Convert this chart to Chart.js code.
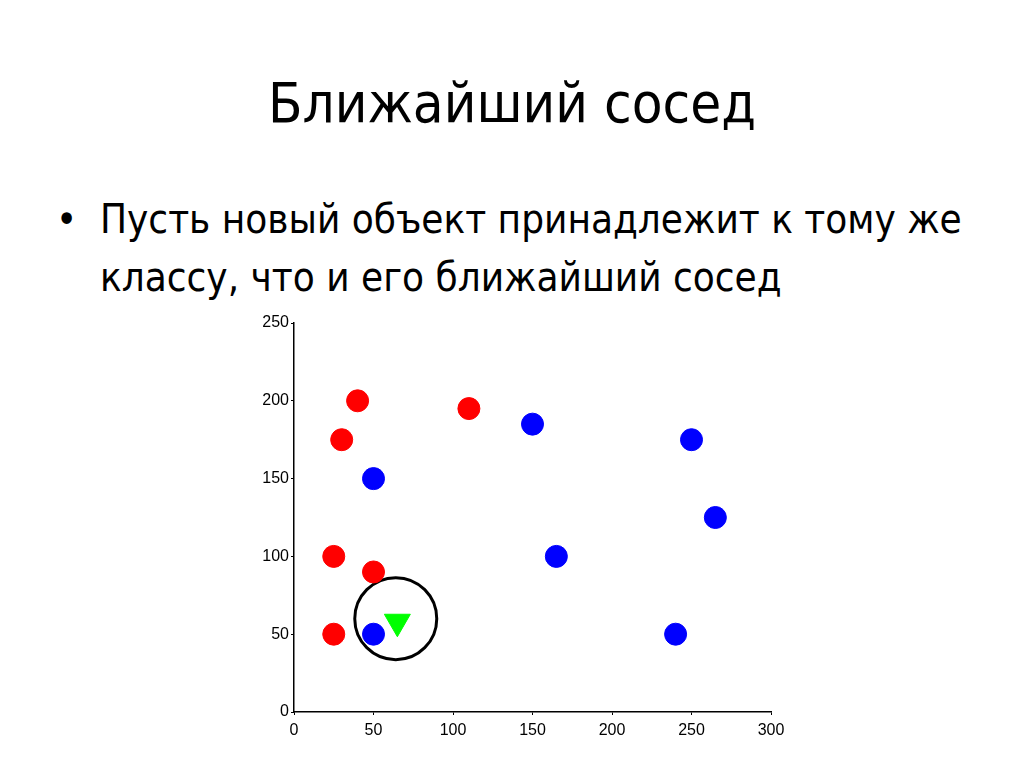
<!DOCTYPE html>
<html>
<head>
<meta charset="utf-8">
<script src="https://cdn.jsdelivr.net/npm/chart.js@4"></script>
<style>
  html, body { margin: 0; padding: 0; background: #fff; }
  body { width: 1024px; height: 768px; position: relative; overflow: hidden;
         font-family: "DejaVu Sans Condensed", "Open Sans", sans-serif; color: #000; }
  h1 { position: absolute; top: 70px; left: 0; width: 1024px; margin: 0; text-align: center;
       font-weight: normal; font-size: 56px; }
  .bullet { position: absolute; left: 56px; top: 190px; width: 960px; font-size: 40px; line-height: 58px; }
  .bullet span.dot { position: absolute; left: 0; top: 0; }
  .bullet p { margin: 0 0 0 44px; }
  #wrap { position: absolute; left: 244px; top: 279px; width: 571px; height: 477px; }
</style>
</head>
<body>
<h1>Ближайший сосед</h1>
<div class="bullet"><span class="dot">•</span><p>Пусть новый объект принадлежит к тому же<br>классу, что и его ближайший сосед</p></div>
<div id="wrap"><canvas id="grafico-vecinos"></canvas></div>
<script>
(function () {
    // точки классов
    const rojoX = [40, 30, 110, 25, 50, 25];
    const rojoY = [200, 175, 195, 100, 90, 50];
    const azulX = [50, 150, 250, 265, 165, 240, 50];
    const azulY = [150, 185, 175, 125, 100, 50, 50];
    const nuevoX = [65];
    const nuevoY = [58];
    const circuloX = [64];
    const circuloY = [60];
    const ticksX = [0, 50, 100, 150, 200, 250, 300];
    const ticksY = [0, 50, 100, 150, 200, 250];

    const puntos = (xs, ys) => xs.map((x, i) => ({ x: x, y: ys[i] }));

    const ctx = document.getElementById("grafico-vecinos");
    new Chart(ctx, {
      type: 'scatter',
      data: {
        datasets: [{
          data: puntos(rojoX, rojoY),
          backgroundColor: '#ff0000',
          borderColor: '#ff0000',
          pointRadius: 11
        }, {
          data: puntos(azulX, azulY),
          backgroundColor: '#0000ff',
          borderColor: '#0000ff',
          pointRadius: 11
        }, {
          data: puntos(nuevoX, nuevoY),
          backgroundColor: '#00ff00',
          borderColor: '#00ff00',
          pointStyle: 'triangle',
          rotation: 180,
          pointRadius: 15
        }, {
          data: puntos(circuloX, circuloY),
          backgroundColor: 'rgba(0,0,0,0)',
          borderColor: '#000',
          borderWidth: 3,
          pointRadius: 41
        }]
      },
      options: {
        responsive: true,
        maintainAspectRatio: false,
        animation: false,
        layout: { padding: { top: 10, right: 20, left: 0, bottom: 0 } },
        plugins: {
          legend: { display: false },
          tooltip: { enabled: false }
        },
        scales: {
          x: {
            type: 'linear',
            min: 0, max: 300,
            afterBuildTicks: s => { s.ticks = ticksX.map(v => ({ value: v })); },
            afterFit: s => { s.height = 30; },
            border: { color: '#000', width: 1.5 },
            grid: { drawOnChartArea: false, color: '#000', tickLength: 3 },
            ticks: { color: '#000', padding: 6, font: { family: 'Liberation Sans', size: 16 } }
          },
          y: {
            type: 'linear',
            min: 0, max: 250,
            afterBuildTicks: s => { s.ticks = ticksY.map(v => ({ value: v })); },
            afterFit: s => { s.width = 50; },
            border: { color: '#000', width: 1.5 },
            grid: { drawOnChartArea: false, color: '#000', tickLength: 3 },
            ticks: { color: '#000', padding: 2, font: { family: 'Liberation Sans', size: 16 } }
          }
        }
      }
    });
})();
</script>
</body>
</html>
